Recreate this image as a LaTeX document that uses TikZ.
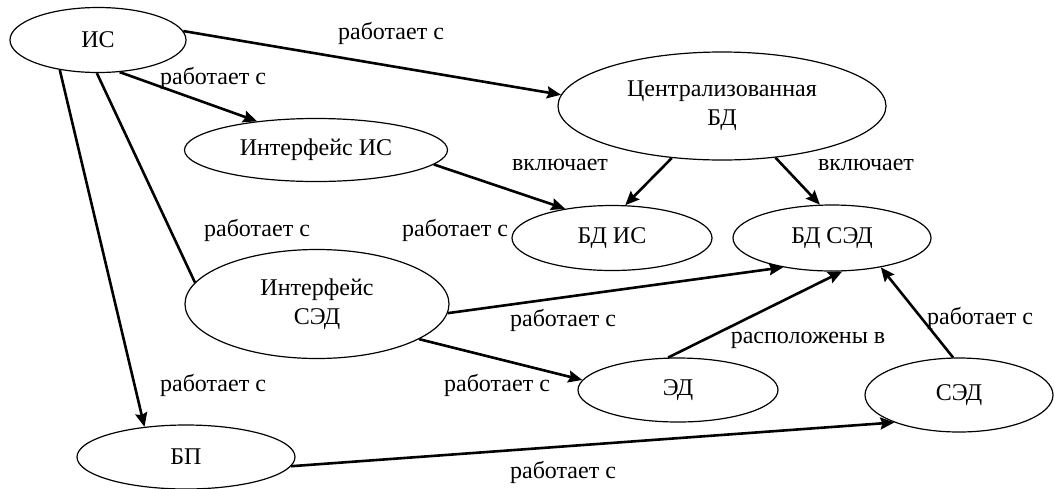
\documentclass[tikz,border=0pt]{standalone}
\usepackage{fontspec}
\setmainfont{Liberation Serif}
\usetikzlibrary{shapes.geometric,arrows.meta}

\begin{document}
\begin{tikzpicture}[x=1pt,y=-1pt,
    every node/.style={font=\rmfamily\fontsize{24}{29}\selectfont},
    ebox/.style={draw,ellipse,line width=1.2pt,inner sep=0pt,align=center},
    link/.style={line width=2.6pt},
    arr/.style={link,-{Stealth[length=14pt,width=12pt,inset=2pt]}}]
	  \useasboundingbox (0,0) rectangle (1054,488);
	  % ellipses
	  \node (is) [ebox,minimum width=176pt,minimum height=65pt] at (98,40) {ИС};
	  \node (cbd) [ebox,minimum width=328pt,minimum height=108pt] at (722,106) {Централизованная\\БД};
	  \node (iis) [ebox,minimum width=263pt,minimum height=63pt] at (316,150) {Интерфейс ИС};
	  \node (bdis) [ebox,minimum width=200pt,minimum height=65pt] at (612,238) {БД ИС};
	  \node (bdsed) [ebox,minimum width=198pt,minimum height=66pt] at (832,238) {БД СЭД};
	  \node (ised) [ebox,minimum width=264pt,minimum height=109pt] at (317,304) {Интерфейс\\СЭД};
	  \node (ed) [ebox,minimum width=200pt,minimum height=64pt] at (678,390) {ЭД};
	  \node (sed) [ebox,minimum width=188pt,minimum height=74pt] at (959,395) {СЭД};
	  \node (bp) [ebox,minimum width=218pt,minimum height=64pt] at (186,457) {БП};
	  % connectors
	  \draw[arr] (is.6.5) -- (cbd.176.5);
	  \draw[arr] (is.-56.3) -- (iis.154.1);
	  \draw[link] (is.-92) -- (ised.170.3);
	  \draw[arr] (is.-142.5) -- (bp.144);
	  \draw[arr] (iis.-7.1) -- (bdis.148.6);
	  \draw[arr] (cbd.-134) -- (bdis.68.5);
	  \draw[arr] (cbd.-44.5) -- (bdsed.110);
	  \draw[arr] (ised.-4.8) -- (bdsed.-149);
	  \draw[arr] (ised.-19.8) -- (ed.174.2);
	  \draw[arr] (ed.107.9) -- (bdsed.-73.6);
	  \draw[arr] (sed.99.2) -- (bdsed.-31.7);
	  \draw[arr] (bp.-5.8) -- (sed.-157.9);
	  % labels
	  \node (t1) at (391,33) {работает с};
	  \node (t2) at (213,78) {работает с};
	  \node (t3) at (257,230) {работает с};
	  \node (t4) at (455,230) {работает с};
	  \node (t5) at (560,165) {включает};
	  \node (t6) at (866,165) {включает};
	  \node (t7) at (563,320) {работает с};
	  \node (t8) at (497,385) {работает с};
	  \node (t9) at (808,340) {расположены в};
	  \node (t10) at (980,318) {работает с};
	  \node (t11) at (213,385) {работает с};
	  \node (t12) at (563,472) {работает с};
\end{tikzpicture}
\end{document}
